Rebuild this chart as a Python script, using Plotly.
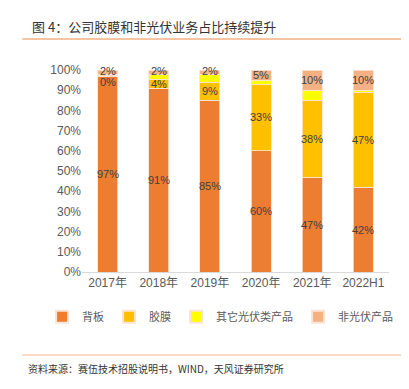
import plotly.graph_objects as go

categories = ["2017年", "2018年", "2019年", "2020年", "2021年", "2022H1"]
backsheet = [97, 91, 85, 60, 47, 42]
film = [0.4, 4.5, 9, 33, 38, 47]
other_pv = [0.6, 2.5, 4, 2, 5, 1]
non_pv = [2, 2, 2, 5, 10, 10]
film_labels = ["0%", "4%", "9%", "33%", "38%", "47%"]
back_labels = ["97%", "91%", "85%", "60%", "47%", "42%"]
nonpv_labels = ["2%", "2%", "2%", "5%", "10%", "10%"]
y_ticks = list(range(0, 101, 10))
y_tick_labels = [f"{v}%" for v in y_ticks]

series = [
    ("背板", backsheet, "#ED7D31"),
    ("胶膜", film, "#FFC000"),
    ("其它光伏类产品", other_pv, "#FFFF00"),
    ("非光伏产品", non_pv, "#F4B183"),
]

fig = go.Figure()
for name, vals, color in series:
    fig.add_trace(go.Bar(
        x=categories, y=vals, name=name,
        marker=dict(color=color, line=dict(color="#FBE3D6", width=0.8)),
        hoverinfo="skip",
    ))

lab_font = dict(family="Liberation Sans, Noto Sans CJK SC", size=11, color="#404040")
annotations = []
for i, cat in enumerate(categories):
    b1 = backsheet[i]
    b2 = b1 + film[i]
    b3 = b2 + other_pv[i]
    annotations.append(dict(x=cat, y=backsheet[i] / 2, text=back_labels[i],
                            showarrow=False, font=lab_font, xref="x", yref="y"))
    annotations.append(dict(x=cat, y=b1 + film[i] / 2, text=film_labels[i],
                            showarrow=False, font=lab_font, xref="x", yref="y",
                            yshift=-6 if i == 0 else 0))
    annotations.append(dict(x=cat, y=b3 + non_pv[i] / 2, text=nonpv_labels[i],
                            showarrow=False, font=lab_font, xref="x", yref="y",
                            yshift=1 if i < 3 else 0))

annotations.append(dict(xref="paper", yref="paper", x=-0.17, y=1.213, xanchor="left",
                        yanchor="middle", showarrow=False,
                        text="图 4：公司胶膜和非光伏业务占比持续提升",
                        font=dict(family="Noto Sans CJK SC", size=13, color="#333333")))
annotations.append(dict(xref="paper", yref="paper", x=-0.183, y=-0.48, xanchor="left",
                        yanchor="middle", showarrow=False,
                        text="资料来源：赛伍技术招股说明书，WIND，天风证券研究所",
                        font=dict(family="Noto Sans CJK SC", size=10, color="#333333")))

shapes = [
    dict(type="line", xref="paper", yref="paper", x0=-0.195, x1=1.078, y0=1.153, y1=1.153,
         line=dict(color="#F4B183", width=1.5)),
    dict(type="line", xref="paper", yref="paper", x0=-0.195, x1=1.078, y0=-0.411, y1=-0.411,
         line=dict(color="#F8CBAD", width=1.5)),
]

fig.update_layout(
    width=409, height=389,
    margin=dict(l=74, r=28, t=62, b=125),
    barmode="stack", bargap=0.61,
    plot_bgcolor="white", paper_bgcolor="white",
    showlegend=True,
    legend=dict(orientation="h", x=-0.13, xanchor="left", y=-0.222, yanchor="middle",
                font=dict(family="Noto Sans CJK SC", size=11, color="#595959"),
                itemwidth=30, traceorder="normal", tracegroupgap=0,
                itemsizing="constant"),
    annotations=annotations, shapes=shapes,
    xaxis=dict(showline=True, linecolor="#D9D9D9", linewidth=1, ticks="",
               tickfont=dict(family="Liberation Sans, Noto Sans CJK SC", size=12, color="#595959"),
               showgrid=False),
    yaxis=dict(range=[0, 100], tickvals=y_ticks, ticktext=y_tick_labels,
               showgrid=False, zeroline=False, showline=False,
               tickfont=dict(family="Liberation Sans", size=12, color="#595959")),
)

fig.write_html("out.html")
